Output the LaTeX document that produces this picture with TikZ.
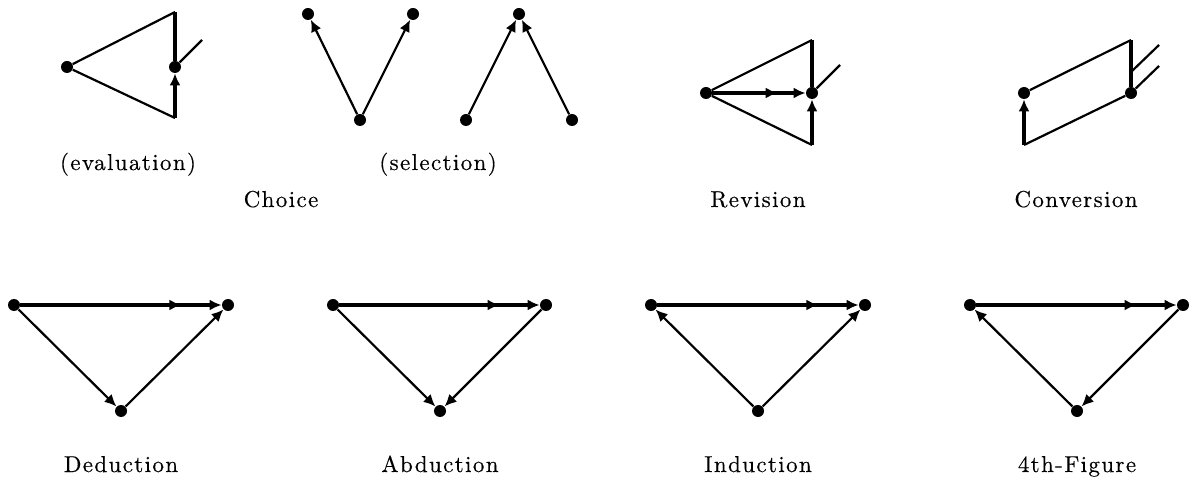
\documentclass[tikz,border=0pt]{standalone}
\usepackage{fontspec}
\setmainfont{lmroman10-regular.otf}[LetterSpace=6,FakeBold=0.4]
\usetikzlibrary{arrows.meta,decorations.markings}
\tikzset{
  dot/.style={circle,fill=black,inner sep=0pt,minimum size=6pt},
  ln/.style={line width=1.1pt},
  thk/.style={line width=1.6pt},
  arr/.style={-{Latex[length=6pt,width=5.5pt]}},
  midarr/.style={postaction={decorate,decoration={markings,mark=at position #1 with {\arrow{Latex[length=6pt,width=5.5pt]}}}}},
  lbl/.style={anchor=base,inner sep=0pt,font=\fontsize{11.5}{14}\selectfont}
}
\begin{document}
\begin{tikzpicture}[x=0.5pt,y=-0.5pt]
\useasboundingbox (0,0) rectangle (1197,485);
% Evaluation
\node[dot] (e1) at (67,67) {};
\node[dot] (e2) at (175,67) {};
\coordinate (et) at (175,12);
\coordinate (eb) at (175,118);
\coordinate (ed) at (202,40);
\draw[ln] (e1) -- (et);
\draw[ln] (e1) -- (eb);
\draw[thk] (et) -- (e2);
\draw[thk,arr] (eb) -- (e2);
\draw[ln] (e2) -- (ed);
% Selection
\node[dot] (s1) at (308,14) {};
\node[dot] (s2) at (413,14) {};
\node[dot] (s3) at (360,120) {};
\draw[ln,arr] (s3) -- (s1);
\draw[ln,arr] (s3) -- (s2);
\node[dot] (s4) at (466,120) {};
\node[dot] (s5) at (519,14) {};
\node[dot] (s6) at (572,120) {};
\draw[ln,arr] (s4) -- (s5);
\draw[ln,arr] (s6) -- (s5);
% Revision
\node[dot] (r1) at (706,93) {};
\node[dot] (r2) at (812,93) {};
\coordinate (rt) at (812,40);
\coordinate (rb) at (812,145);
\coordinate (rd) at (840,65);
\draw[ln] (r1) -- (rt);
\draw[ln] (r1) -- (rb);
\draw[thk] (rt) -- (r2);
\draw[thk,arr] (rb) -- (r2);
\draw[thk,arr,midarr=0.7] (r1) -- (r2);
\draw[ln] (r2) -- (rd);
% Conversion
\node[dot] (c1) at (1024,93) {};
\node[dot] (c2) at (1131,93) {};
\coordinate (cb) at (1024,145);
\coordinate (ct) at (1131,40);
\coordinate (cm) at (1131,72);
\coordinate (cd1) at (1159,45);
\coordinate (cd2) at (1159,66);
\draw[thk,arr] (cb) -- (c1);
\draw[ln] (c1) -- (ct);
\draw[thk] (ct) -- (c2);
\draw[ln] (cb) -- (c2);
\draw[ln] (cm) -- (cd1);
\draw[ln] (c2) -- (cd2);
% Deduction
\node[dot] (d1) at (14,305) {};
\node[dot] (d2) at (228,305) {};
\node[dot] (d3) at (121,411) {};
\draw[thk,arr,midarr=0.8] (d1) -- (d2);
\draw[ln,arr] (d1) -- (d3);
\draw[ln,arr] (d3) -- (d2);
% Abduction
\node[dot] (a1) at (333,305) {};
\node[dot] (a2) at (546,305) {};
\node[dot] (a3) at (440,411) {};
\draw[thk,arr,midarr=0.8] (a1) -- (a2);
\draw[ln,arr] (a1) -- (a3);
\draw[ln,arr] (a2) -- (a3);
% Induction
\node[dot] (i1) at (651,305) {};
\node[dot] (i2) at (865,305) {};
\node[dot] (i3) at (758,411) {};
\draw[thk,arr,midarr=0.8] (i1) -- (i2);
\draw[ln,arr] (i3) -- (i1);
\draw[ln,arr] (i3) -- (i2);
% 4th figure
\node[dot] (f1) at (970,305) {};
\node[dot] (f2) at (1183,305) {};
\node[dot] (f3) at (1077,411) {};
\draw[thk,arr,midarr=0.8] (f1) -- (f2);
\draw[ln,arr] (f3) -- (f1);
\draw[ln,arr] (f2) -- (f3);
% Labels
\node[lbl] (le) at (128,170) {(evaluation)};
\node[lbl] (ls) at (438,170) {(selection)};
\node[lbl] (lc) at (281,207) {Choice};
\node[lbl] (lr) at (758,207) {Revision};
\node[lbl] (lv) at (1076,207) {Conversion};
\node[lbl] (ld) at (121,472) {Deduction};
\node[lbl] (la) at (440,472) {Abduction};
\node[lbl] (li) at (758,472) {Induction};
\node[lbl] (lf) at (1077,472) {4th-Figure};
\end{tikzpicture}
\end{document}
